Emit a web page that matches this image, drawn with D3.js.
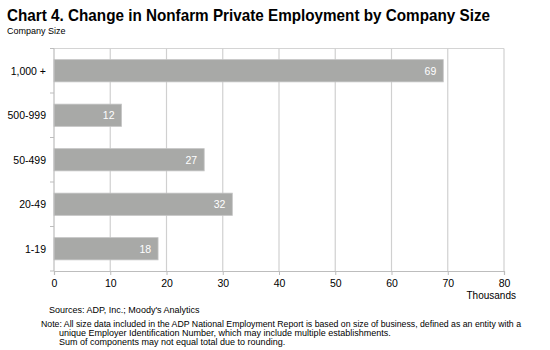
<!DOCTYPE html>
<html><head><meta charset="utf-8">
<script src="https://cdn.jsdelivr.net/npm/d3@7"></script>
<style>body{margin:0;background:#fff;} text{font-family:"Liberation Sans",Arial,sans-serif;}</style>
</head><body>
<svg id="c" width="550" height="350"></svg>
<script>
const categories = ["1,000 +", "500-999", "50-499", "20-49", "1-19"];
const values = [69.2, 12.0, 26.7, 31.7, 18.5];
const labels = ["69", "12", "27", "32", "18"];
const xTicks = [0, 10, 20, 30, 40, 50, 60, 70, 80];

const svg = d3.select("#c");
const m = {left: 54, right: 46, top: 48.5, bottom: 79};
const W = 550, H = 350;
const x = d3.scaleLinear().domain([0, 80]).range([m.left, W - m.right]);
const y = d3.scaleBand().domain(categories).range([m.top, H - m.bottom]).paddingInner(0.5).paddingOuter(0.25);

// title
svg.append("text").attr("x", 7).attr("y", 21).attr("font-size", 17).attr("font-weight", "bold")
  .attr("textLength", 483).attr("lengthAdjust", "spacingAndGlyphs")
  .text("Chart 4. Change in Nonfarm Private Employment by Company Size");
svg.append("text").attr("x", 7).attr("y", 33.5).attr("font-size", 9).text("Company Size");

// top border
svg.append("line").attr("x1", m.left).attr("x2", W - m.right).attr("y1", m.top).attr("y2", m.top)
  .attr("stroke", "#d4d4d4").attr("stroke-width", 1);

// gridlines
svg.append("g").selectAll("line").data(xTicks.slice(1)).join("line")
  .attr("x1", d => x(d)).attr("x2", d => x(d)).attr("y1", m.top).attr("y2", H - m.bottom)
  .attr("stroke", "#d0d0d0").attr("stroke-width", 1.2);

// bars
svg.append("g").selectAll("rect").data(values).join("rect")
  .attr("x", x(0)).attr("y", (d, i) => y(categories[i]))
  .attr("width", d => x(d) - x(0)).attr("height", y.bandwidth())
  .attr("fill", "#a8a9a7").attr("stroke", "#c4c4c4").attr("stroke-width", 0.8);

svg.append("g").selectAll("text").data(values).join("text")
  .attr("x", d => x(d) - 7).attr("y", (d, i) => y(categories[i]) + y.bandwidth() / 2 + 4)
  .attr("text-anchor", "end").attr("fill", "#fff").attr("font-size", 10.5)
  .text((d, i) => labels[i]);

// x axis
const xAxis = d3.axisBottom(x).tickValues(xTicks).tickSize(4).tickPadding(5).tickFormat(d3.format("d"));
const gx = svg.append("g").attr("transform", `translate(0,${H - m.bottom})`).call(xAxis);
gx.select(".domain").attr("stroke", "#bdbdbd").attr("stroke-width", 1.2);
gx.selectAll(".tick line").attr("stroke", "#bdbdbd");
gx.selectAll(".tick text").attr("font-size", 10.5).attr("fill", "#000").attr("font-family", "Liberation Sans, Arial, sans-serif");

// y axis
const gy = svg.append("g").attr("transform", `translate(${m.left},0)`);
gy.append("line").attr("x1", 0).attr("x2", 0).attr("y1", m.top).attr("y2", H - m.bottom)
  .attr("stroke", "#bdbdbd").attr("stroke-width", 1.2);
const step = y.step();
const boundaries = d3.range(0, categories.length + 1).map(i => m.top + i * step);
gy.selectAll("line.tk").data(boundaries).join("line").attr("class", "tk")
  .attr("x1", -4).attr("x2", 0).attr("y1", d => d).attr("y2", d => d).attr("stroke", "#bdbdbd");
gy.selectAll("text").data(categories).join("text")
  .attr("x", -8).attr("y", d => y(d) + y.bandwidth() / 2 + 4)
  .attr("text-anchor", "end").attr("font-size", 10.5).attr("fill", "#000").text(d => d);

svg.append("text").attr("x", 516).attr("y", 299).attr("text-anchor", "end").attr("font-size", 10)
  .text("Thousands");

// footnotes
svg.append("text").attr("x", 49).attr("y", 312.5).attr("font-size", 9).text("Sources:  ADP, Inc.;  Moody's Analytics");
svg.append("text").attr("x", 41).attr("y", 327).attr("font-size", 9)
  .attr("textLength", 480).attr("lengthAdjust", "spacingAndGlyphs")
  .text("Note:  All size data included in the ADP National Employment Report is based on size of business, defined as an entity with a");
svg.append("text").attr("x", 59).attr("y", 336).attr("font-size", 9)
  .text("unique Employer Identification Number, which may include multiple establishments.");
svg.append("text").attr("x", 59).attr("y", 344.5).attr("font-size", 9)
  .text("Sum of components may not equal total due to rounding.");
</script>
</body></html>
